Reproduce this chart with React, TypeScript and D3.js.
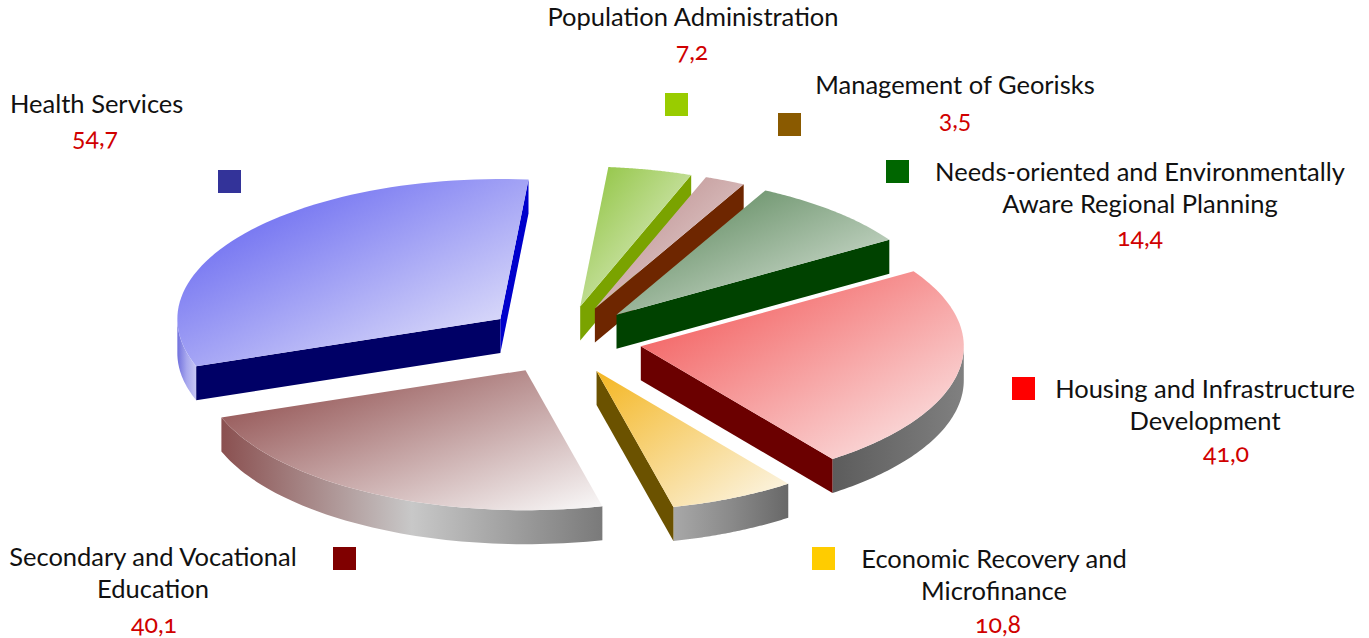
import * as d3 from "d3";

// slices in clockwise order starting near 12 o'clock
const categories = [
  "Population Administration",
  "Management of Georisks",
  "Needs-oriented and Environmentally Aware Regional Planning",
  "Housing and Infrastructure Development",
  "Economic Recovery and Microfinance",
  "Secondary and Vocational Education",
  "Health Services",
];
const values = [7.2, 3.5, 14.4, 41.0, 10.8, 40.1, 54.7];
const valueLabels = ["7,2", "3,5", "14,4", "41,0", "10,8", "40,1", "54,7"];
const labelLines = [
  ["Population Administration"],
  ["Management of Georisks"],
  ["Needs-oriented and Environmentally", "Aware Regional Planning"],
  ["Housing and Infrastructure", "Development"],
  ["Economic Recovery and", "Microfinance"],
  ["Secondary and Vocational", "Education"],
  ["Health Services"],
];

const legendColors = ["#99cc00", "#8a5a00", "#006600", "#ff0000", "#ffcc00", "#800000", "#333399"];
const topDark = ["#8cc23a", "#b58484", "#4d7d4d", "#f24c4c", "#f4b622", "#874040", "#5555ef"];
const topLight = ["#eef5e2", "#eedede", "#e6ede6", "#fbeeee", "#fcf8ee", "#fafafa", "#f0f0fb"];
const startFaceColors = ["#7aa300", "#6e2600", "#004200", "#6b0000", "#6b5200", "#6b0000", "#000066"];
const endFaceColors = ["#7aa300", "#6e2600", "#004200", "#6b0000", "#6b5200", "#8a5050", "#0000cc"];
const wallColors = [
  ["#888", "#888", "#888"],
  ["#888", "#888", "#888"],
  ["#888", "#888", "#888"],
  ["#5c5c5c", "#6e6e6e", "#808080"],
  ["#a8a8a8", "#8a8a8a", "#686868"],
  ["#8a5050", "#c8c8c8", "#7a7a7a"],
  ["#7070dd", "#a8a8ee", "#c8c8f4"],
];

// legend layout: square, text centre/first baseline, value centre/baseline
const legendLayout = [
  { sq: [665, 93], tx: 693, ty: 26, anchor: "middle", vx: 692, vy: 60 },
  { sq: [778, 113], tx: 955, ty: 94, anchor: "middle", vx: 955, vy: 128 },
  { sq: [886, 160], tx: 1140, ty: 181, anchor: "middle", vx: 1140, vy: 246 },
  { sq: [1012, 377], tx: 1205, ty: 398, anchor: "middle", vx: 1226, vy: 462 },
  { sq: [812, 547], tx: 994, ty: 568, anchor: "middle", vx: 998, vy: 633 },
  { sq: [333, 547], tx: 153, ty: 566, anchor: "middle", vx: 154, vy: 633 },
  { sq: [218, 170], tx: 10, ty: 113, anchor: "start", vx: 95, vy: 146 },
];

const width = 1369;
const height = 638;
const cx = 563;
const cy = 340;
const rx = 323;
const ry = 140;
const thick = 34;
const explode = 0.245;
const deg = Math.PI / 180;

const pie = d3
  .pie<number>()
  .sort(null)
  .startAngle(5 * deg)
  .endAngle(365 * deg);

const line = d3.line<[number, number]>();

export default function App() {
  const arcs = pie(values);

  const slices = arcs.map((d, i) => {
    const a0 = d.startAngle;
    const a1 = d.endAngle;
    const m = (a0 + a1) / 2;
    const ox = cx + explode * rx * Math.sin(m);
    const oy = cy - explode * ry * Math.cos(m);
    const pt = (a: number, z: number): [number, number] => [
      ox + rx * Math.sin(a),
      oy - ry * Math.cos(a) + z,
    ];
    const arcPts = (b0: number, b1: number, z: number) =>
      d3.range(0, 61).map((k) => pt(b0 + ((b1 - b0) * k) / 60, z));

    const top = line([[ox, oy], ...arcPts(a0, a1, 0)]) + "Z";

    // outer wall where it faces the viewer
    let wall: string | null = null;
    const w0 = Math.max(a0, 90 * deg);
    const w1 = Math.min(a1, 270 * deg);
    if (w1 > w0) {
      wall = line([...arcPts(w0, w1, 0), ...arcPts(w0, w1, thick).reverse()]) + "Z";
    }

    const face = (a: number) =>
      line([[ox, oy], pt(a, 0), pt(a, thick), [ox, oy + thick]]) + "Z";
    const startVisible = Math.cos(a0 - Math.PI / 2) < 0;
    const endVisible = Math.cos(a1 + Math.PI / 2) < 0;

    return { i, oy, top, wall, start: startVisible ? face(a0) : null, end: endVisible ? face(a1) : null };
  });

  const order = [...slices].sort((p, q) => p.oy - q.oy);

  return (
    <svg
      width={width}
      height={height}
      style={{ position: "absolute", left: 0, top: 0, background: "#fff" }}
    >
      <defs>
        {categories.map((_, i) => (
          <linearGradient key={"t" + i} id={"top" + i} x1="0" y1="0" x2="1" y2="1">
            <stop offset="0" stopColor={topDark[i]} />
            <stop offset="1" stopColor={topLight[i]} />
          </linearGradient>
        ))}
        {categories.map((_, i) => (
          <linearGradient key={"w" + i} id={"wall" + i} x1="0" y1="0" x2="1" y2="0">
            <stop offset="0" stopColor={wallColors[i][0]} />
            <stop offset="0.5" stopColor={wallColors[i][1]} />
            <stop offset="1" stopColor={wallColors[i][2]} />
          </linearGradient>
        ))}
      </defs>

      {order.map((s) => (
        <g key={s.i}>
          {s.wall && <path d={s.wall} fill={`url(#wall${s.i})`} />}
          {s.start && <path d={s.start} fill={startFaceColors[s.i]} />}
          {s.end && <path d={s.end} fill={endFaceColors[s.i]} />}
          <path d={s.top} fill={`url(#top${s.i})`} />
        </g>
      ))}

      {categories.map((c, i) => {
        const L = legendLayout[i];
        return (
          <g key={c}>
            <rect x={L.sq[0]} y={L.sq[1]} width={23} height={23} fill={legendColors[i]} />
            <text
              textAnchor={L.anchor}
              fontFamily="Lato, 'Open Sans', sans-serif"
              fontSize={25.5}
              fill="#111"
            >
              {labelLines[i].map((t, k) => (
                <tspan key={k} x={L.tx} y={L.ty + k * 32}>
                  {t}
                </tspan>
              ))}
            </text>
            <text
              x={L.vx}
              y={L.vy}
              textAnchor="middle"
              fontFamily="Lato, 'Open Sans', sans-serif"
              fontSize={25}
              fill="#d00000"
              style={{ fontVariantNumeric: "oldstyle-nums" }}
            >
              {valueLabels[i]}
            </text>
          </g>
        );
      })}
    </svg>
  );
}
